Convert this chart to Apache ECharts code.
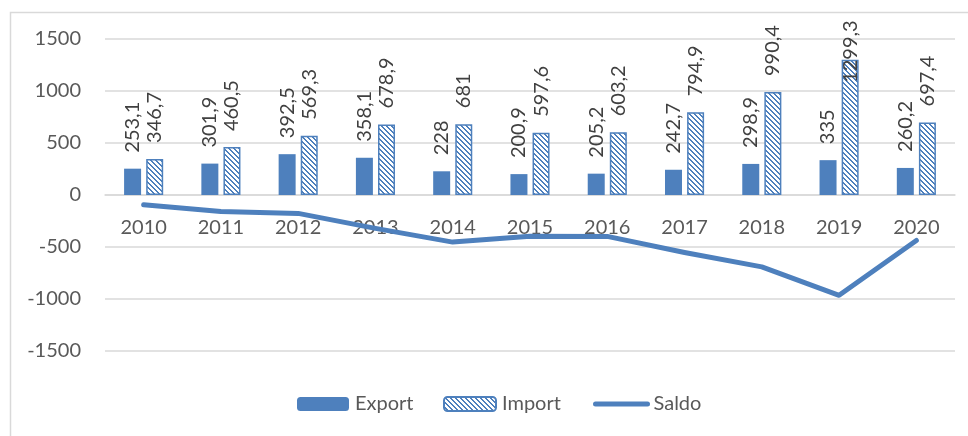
<!DOCTYPE html>
<html>
<head>
<meta charset="utf-8">
<script src="https://cdn.jsdelivr.net/npm/echarts@6/dist/echarts.min.js"></script>
<style>
html,body{margin:0;padding:0;background:#fff;}
#c{width:968px;height:436px;}
</style>
</head>
<body>
<div id="c"></div>
<script>
const categories = ['2010','2011','2012','2013','2014','2015','2016','2017','2018','2019','2020'];
const exportValues = [253.1, 301.9, 392.5, 358.1, 228, 200.9, 205.2, 242.7, 298.9, 335, 260.2];
const importValues = [346.7, 460.5, 569.3, 678.9, 681, 597.6, 603.2, 794.9, 990.4, 1299.3, 697.4];
const saldoValues = [-93.6, -158.6, -176.8, -320.8, -453, -396.7, -398, -552.2, -691.5, -964.3, -437.2];
const yTicks = [-1500, -1000, -500, 0, 500, 1000, 1500];

const BLUE = '#4e80bd';
const FONT = 'Lato';

// hatch pattern
const pc = document.createElement('canvas');
pc.width = 5; pc.height = 5;
const pctx = pc.getContext('2d');
const img = pctx.createImageData(5, 5);
for (let y = 0; y < 5; y++) {
  for (let x = 0; x < 5; x++) {
    const i = (y * 5 + x) * 4;
    const on = (((x - y) % 5) + 5) % 5 < 2;
    img.data[i] = on ? 78 : 255;
    img.data[i+1] = on ? 128 : 255;
    img.data[i+2] = on ? 189 : 255;
    img.data[i+3] = 255;
  }
}
pctx.putImageData(img, 0, 0);
const hatch = {image: pc, repeat: 'repeat'};

const fmt = p => String(p.value).replace('.', ',');
const barLabel = {
  show: true, position: 'top', rotate: 90, align: 'left', verticalAlign: 'middle',
  distance: 16, color: '#404040', fontFamily: FONT, fontSize: 20, formatter: fmt
};

const importData = importValues.map((v, i) =>
  v === Math.max(...importValues) ? {value: v, label: {offset: [-39, 0]}} : v);

const GRID_TOP = 39, GRID_BOTTOM = 85, H = 436;
const plotH = H - GRID_TOP - GRID_BOTTOM;
const zeroShift = plotH * (0 - yTicks[0]) / (yTicks[yTicks.length - 1] - yTicks[0]);

const legendBase = {
  top: 394, padding: 0, itemWidth: 52, itemHeight: 14,
  textStyle: {color: '#595959', fontSize: 20, fontFamily: FONT, padding: [0, 0, 0, 1]}
};

const chart = echarts.init(document.getElementById('c'));
chart.setOption({
  animation: false,
  textStyle: {fontFamily: FONT},
  graphic: [{
    type: 'rect', left: 8, top: 10, shape: {width: 1200, height: 1000},
    style: {fill: 'none', stroke: '#d9d9d9', lineWidth: 1.5}, silent: true
  }],
  grid: {left: 105, right: 13, top: GRID_TOP, bottom: GRID_BOTTOM},
  legend: [
    Object.assign({}, legendBase, {left: 297, data: ['Export']}),
    Object.assign({}, legendBase, {left: 443, data: ['Import']}),
    Object.assign({}, legendBase, {left: 593, data: [
      {name: 'Saldo', itemStyle: {opacity: 0, color: 'transparent', borderWidth: 0},
       lineStyle: {width: 5, color: BLUE, cap: 'round'}}]})
  ],
  xAxis: {
    type: 'category', data: categories, offset: -zeroShift,
    axisLine: {show: true, onZero: false, lineStyle: {color: '#d9d9d9', width: 1.5}},
    axisTick: {show: false},
    axisLabel: {color: '#595959', fontSize: 20, fontFamily: FONT, margin: 23}
  },
  yAxis: {
    type: 'value', min: yTicks[0], max: yTicks[yTicks.length - 1], interval: 500,
    axisLine: {show: false}, axisTick: {show: false},
    splitLine: {lineStyle: {color: '#d9d9d9', width: 1.5}},
    axisLabel: {color: '#595959', fontSize: 20, fontFamily: FONT, margin: 24,
      formatter: v => String(v)}
  },
  series: [
    {
      name: 'Export', type: 'bar', data: exportValues, barWidth: 17, barGap: '30%',
      itemStyle: {color: BLUE}, label: barLabel
    },
    {
      name: 'Import', type: 'bar', data: importData, barWidth: 17,
      itemStyle: {color: hatch, borderColor: BLUE, borderWidth: 1.5}, label: barLabel
    },
    {
      name: 'Saldo', type: 'line', data: saldoValues, symbol: 'none', z: 5,
      lineStyle: {color: BLUE, width: 5, cap: 'round', join: 'round'},
      itemStyle: {color: BLUE}
    }
  ]
});
</script>
</body>
</html>
